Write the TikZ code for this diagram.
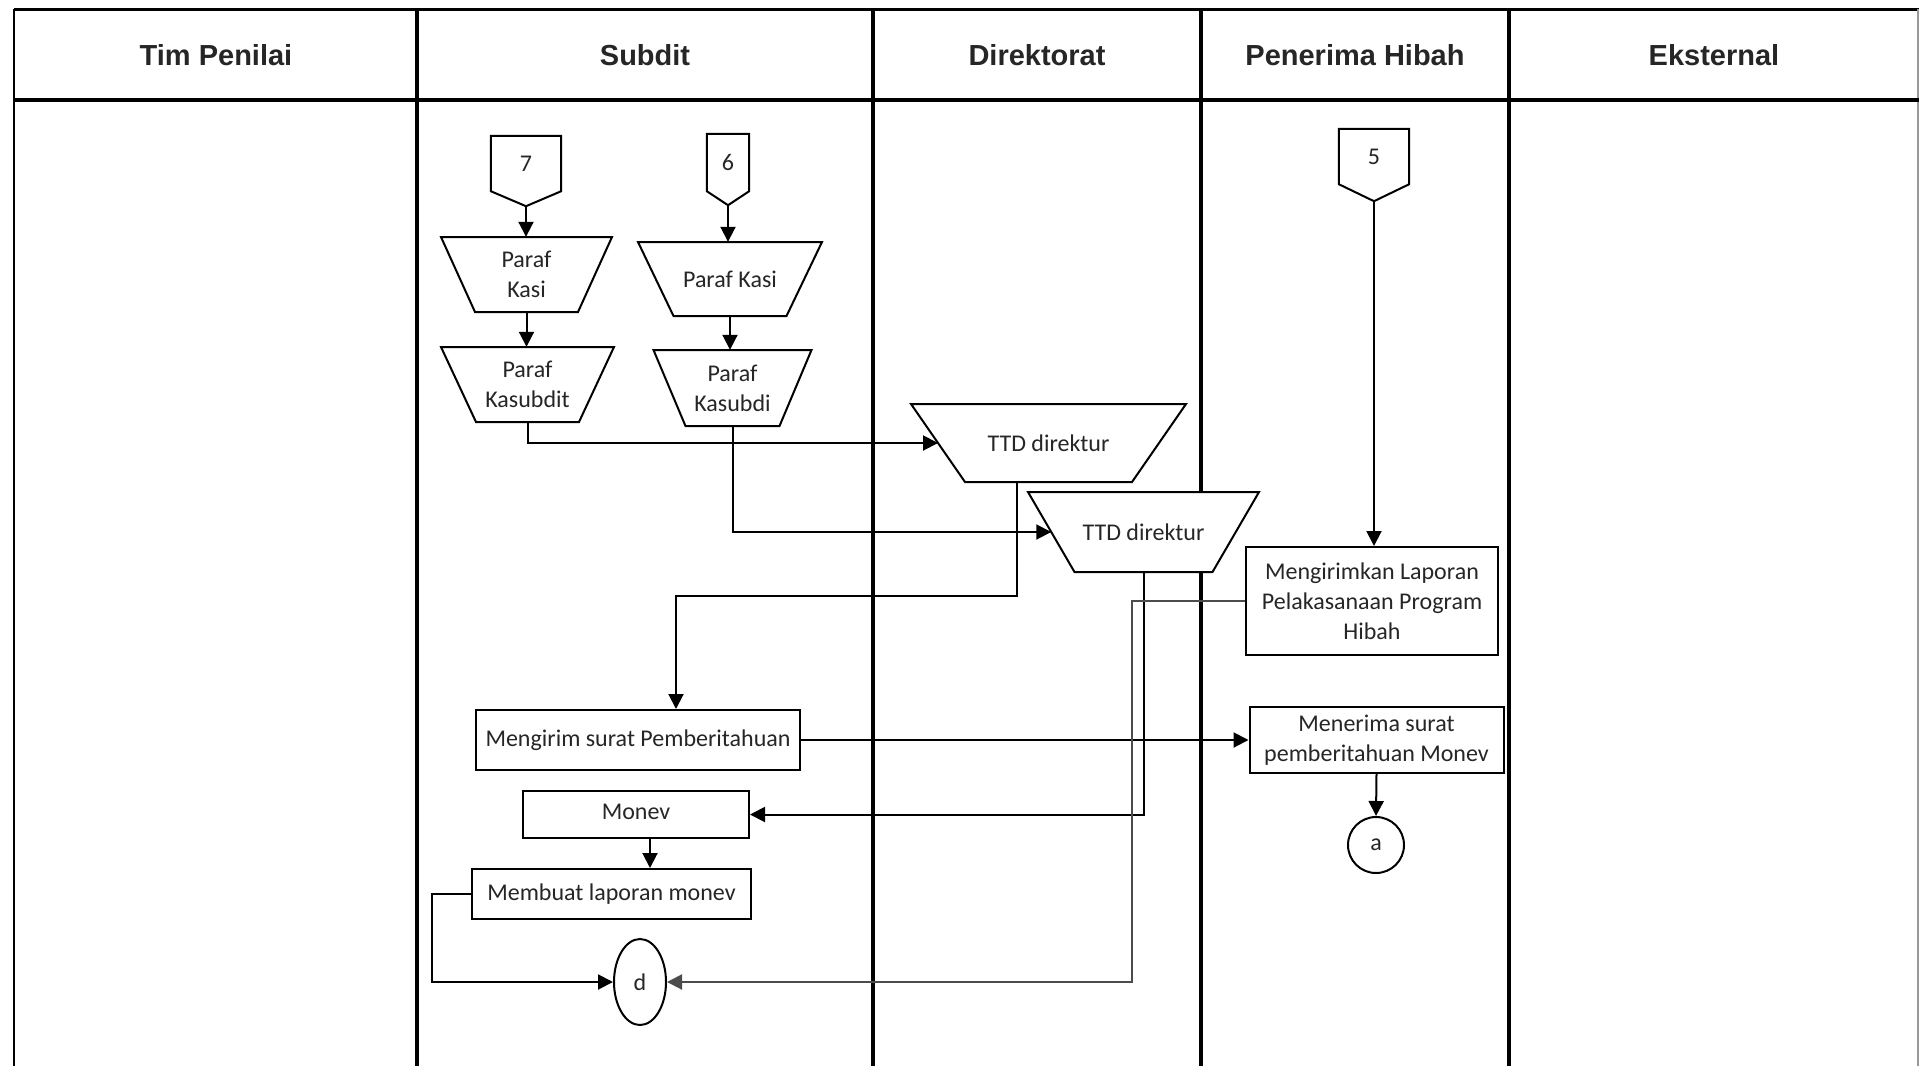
\documentclass[tikz,border=0pt]{standalone}
\usepackage{fontspec}
\setmainfont{Carlito}
\newfontfamily\headfont{Liberation Sans}
\usetikzlibrary{arrows.meta,calc,shapes.geometric}

% manual-operation shape: name, x, y, top width, height, side inset, text
\newcommand{\mantrap}[7]{%
  \filldraw[shapeline, fill=white]
    ({#2-#4/2},{#3-#5/2}) -- ({#2+#4/2},{#3-#5/2}) --
    ({#2+#4/2-#6},{#3+#5/2}) -- ({#2-#4/2+#6},{#3+#5/2}) -- cycle;
  \node[trapbody, minimum width=#4, minimum height=#5] (#1) at (#2,#3) {#7};
  \coordinate (#1-w) at ({#2-#4/2+#6/2},#3);
}

\begin{document}
\begin{tikzpicture}[x=1pt,y=-1pt,
  hdr/.style={font=\headfont\bfseries\fontsize{29}{34}\selectfont, text=black!85},
  box/.style={draw, line width=2pt, fill=white, inner sep=2pt, align=center,
              font=\fontsize{24}{30}\selectfont, text=black!85},
  trapbody/.style={inner sep=2pt, align=center, font=\fontsize{24}{30}\selectfont, text=black!85},
  offp/.style={inner sep=0pt, font=\fontsize{24}{30}\selectfont, text=black!85},
  shapeline/.style={line width=2pt, line join=miter},
  arr/.style={line width=2pt, -{Triangle[length=15pt,width=15pt]}},
]
\useasboundingbox (0,0) rectangle (1919,1066);

% swimlane frame
\draw[line width=3pt] (14,9) -- (1919,9);
\draw[line width=2pt] (14,9) -- (14,1066);
\draw[line width=1.2pt, black!40] (1918,9) -- (1918,1066);
\draw[line width=4pt] (14,100) -- (1919,100);
\foreach \lx in {417,873,1201,1509}
  \draw[line width=3.5pt] (\lx,9) -- (\lx,1066);

% lane titles
\node[hdr] (h1) at (216,55) {Tim Penilai};
\node[hdr] (h2) at (645,55) {Subdit};
\node[hdr] (h3) at (1037,55) {Direktorat};
\node[hdr] (h4) at (1355,55) {Penerima Hibah};
\node[hdr] (h5) at (1714,55) {Eksternal};

% off-page connectors
\node[offp, minimum width=70, minimum height=55] (c7) at (526,163.5) {7};
\coordinate (c7tip) at ($(c7.south)+(0,15)$);
\draw[shapeline] (c7.north west) -- (c7.north east) -- (c7.south east) -- (c7tip) -- (c7.south west) -- cycle;

\node[offp, minimum width=42, minimum height=57] (c6) at (728,162.5) {6};
\coordinate (c6tip) at ($(c6.south)+(0,14)$);
\draw[shapeline] (c6.north west) -- (c6.north east) -- (c6.south east) -- (c6tip) -- (c6.south west) -- cycle;

\node[offp, minimum width=70, minimum height=55] (c5) at (1374,156.5) {5};
\coordinate (c5tip) at ($(c5.south)+(0,17)$);
\draw[shapeline] (c5.north west) -- (c5.north east) -- (c5.south east) -- (c5tip) -- (c5.south west) -- cycle;

% manual operations (Subdit, Direktorat)
\mantrap{pk1}{526.5}{274.5}{171}{75}{34}{Paraf\\Kasi}
\mantrap{pks1}{527.5}{384.5}{173}{75}{35}{Paraf\\Kasubdit}
\mantrap{pk2}{730}{279}{184}{74}{35.5}{Paraf Kasi}
\mantrap{pks2}{732.5}{388}{158}{76}{32}{Paraf\\Kasubdi}
\mantrap{ttd1}{1048.5}{443}{275}{78}{54}{TTD direktur}
\mantrap{ttd2}{1143.5}{532}{231}{80}{46.5}{TTD direktur}

% process boxes
\node[box, minimum width=252, minimum height=108] (lap) at (1372,601) {Mengirimkan Laporan\\Pelakasanaan Program\\Hibah};
\node[box, minimum width=324, minimum height=60] (kirim) at (638,740) {Mengirim surat Pemberitahuan};
\node[box, minimum width=253, minimum height=66] (terima) at (1376.5,740) {\raisebox{-2pt}{\parbox{250pt}{\centering Menerima surat\\pemberitahuan Monev}}};
\node[box, minimum width=226, minimum height=47] (monev) at (636,814.5) {\raisebox{5pt}{Monev}};
\node[box, minimum width=279, minimum height=50] (buat) at (611.5,894) {\raisebox{3pt}{Membuat laporan monev}};

% terminators
\node[box, circle, minimum size=56, inner sep=0pt] (a) at (1376,845) {a};
\node[box, ellipse, minimum width=52, minimum height=86, inner sep=0pt] (d) at (640,982) {d};

% flow
\draw[arr] (c7tip) -- (c7tip |- pk1.north);
\draw[arr] (pk1.south) -- (pk1.south |- pks1.north);
\draw[arr] (c6tip) -- (c6tip |- pk2.north);
\draw[arr] (pk2.south) -- (pk2.south |- pks2.north);
\draw[arr] (pks1.south) |- (ttd1-w);
\draw[arr] (pks2.south) |- (ttd2-w);

\coordinate (t1out) at ($(ttd1.south)+(-31.5,0)$);
\coordinate (k1in) at ($(kirim.north)+(38,0)$);
\coordinate (j1) at (0,596);
\draw[arr] (t1out) -- (t1out |- j1) -| (k1in);

\draw[arr] (ttd2.south) |- (monev.east);
\draw[arr] (c5tip) -- (c5tip |- lap.north);
\draw[arr] (kirim.east) -- (kirim.east -| terima.west);
\draw[arr] (terima.south) -- (a.north);

\coordinate (m1out) at ($(monev.south)+(14,0)$);
\draw[arr] (m1out) -- (m1out |- buat.north);

\coordinate (jx1) at (1132,0);
\draw[arr, black!70] (lap.west) -- (lap.west -| jx1) |- (d.east);
\coordinate (jx2) at (432,0);
\draw[arr] (buat.west) -- (buat.west -| jx2) |- (d.west);

\end{tikzpicture}
\end{document}
